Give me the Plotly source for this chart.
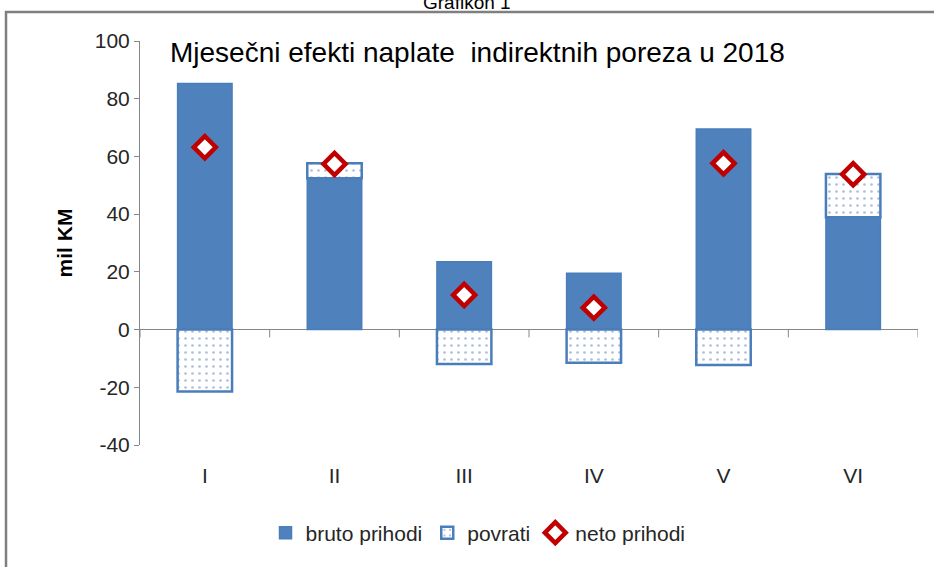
import plotly.graph_objects as go

categories = ["I", "II", "III", "IV", "V", "VI"]
bruto = [85.3, 52.4, 23.5, 19.5, 69.5, 38.9]
povrati = [-21.5, 5.2, -11.9, -11.5, -12.3, 15.0]
neto = [63.2, 57.4, 12.0, 7.6, 57.6, 53.8]
y_ticks = [-40, -20, 0, 20, 40, 60, 80, 100]
y_tick_labels = ["-40", "-20", "0", "20", "40", "60", "80", "100"]

W, H = 934, 567
ML, MR, MT, MB = 140, 16, 41, 122
pw, ph = W - ML - MR, H - MT - MB


def px_x(p):
    return (p - ML) / pw


def px_y(p):
    return (H - MB - p) / ph


blue = "#4F81BD"
edge = "#4A7EBB"
red = "#C00000"
gray = "#868686"
txt = "#262626"

fig = go.Figure()
fig.add_trace(go.Bar(
    x=categories, y=bruto, name="bruto prihodi", width=0.42,
    marker=dict(color=blue, line=dict(color=edge, width=1.5)),
))
fig.add_trace(go.Bar(
    x=categories, y=povrati, name="povrati", width=0.42,
    marker=dict(color="white", line=dict(color=edge, width=2.5),
                pattern=dict(shape=".", fgcolor="#5B7FB5", bgcolor="white",
                             size=7, solidity=0.12)),
))
fig.add_trace(go.Scatter(
    x=categories, y=neto, name="neto prihodi", mode="markers",
    marker=dict(symbol="diamond", size=17, color="white",
                line=dict(color=red, width=4.5)),
))

shapes = []
# category separator ticks on the zero line
for i in range(len(categories) + 1):
    shapes.append(dict(type="line", xref="x", yref="y",
                       x0=i - 0.5, x1=i - 0.5, y0=0, y1=-2.7,
                       line=dict(color=gray, width=1)))
# outer frame
shapes.append(dict(type="rect", xref="paper", yref="paper",
                   x0=px_x(6), x1=px_x(W + 10), y0=px_y(H + 10), y1=px_y(12),
                   line=dict(color="#7F7F7F", width=2.5), fillcolor="rgba(0,0,0,0)",
                   layer="above"))

fig.update_layout(
    width=W, height=H,
    margin=dict(l=ML, r=MR, t=MT, b=MB),
    paper_bgcolor="white", plot_bgcolor="white",
    barmode="relative",
    font=dict(family="Liberation Sans", color=txt),
    showlegend=True,
    legend=dict(orientation="h", x=px_x(478), xanchor="center",
                y=px_y(533), yanchor="middle",
                font=dict(family="Liberation Sans", size=21, color=txt),
                itemwidth=30, traceorder="normal"),
    xaxis=dict(type="category", showline=False, ticks="", showgrid=False,
               tickfont=dict(size=21, color=txt), ticklabelstandoff=16,
               range=[-0.5, len(categories) - 0.5]),
    yaxis=dict(range=[-40, 100], tickvals=y_ticks, ticktext=y_tick_labels,
               showgrid=False,
               showline=True, linecolor=gray, linewidth=1,
               ticks="outside", ticklen=5, tickcolor=gray,
               zeroline=True, zerolinecolor=gray, zerolinewidth=1,
               tickfont=dict(size=21, color=txt),
               title=dict(text="<b>mil KM</b>", font=dict(size=21, color="#000000"),
                          standoff=16)),
    shapes=shapes,
    annotations=[
        dict(text="Mjesečni efekti naplate  indirektnih poreza u 2018",
             xref="paper", yref="paper", x=px_x(168), y=px_y(52),
             xanchor="left", yanchor="middle", showarrow=False,
             font=dict(family="Liberation Sans", size=28, color="#000000")),
        dict(text="Grafikon 1",
             xref="paper", yref="paper", x=px_x(467), y=px_y(3),
             xanchor="center", yanchor="middle", showarrow=False,
             font=dict(family="Liberation Sans", size=19, color="#000000")),
    ],
)

fig.write_html("out.html", config={"displayModeBar": False},
               post_script="document.body.style.margin='0px';")
